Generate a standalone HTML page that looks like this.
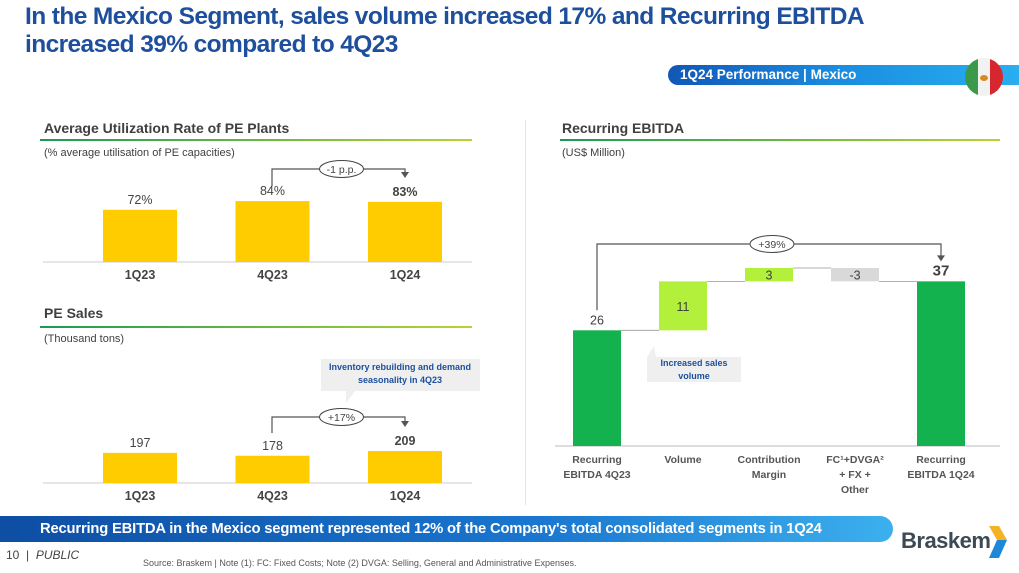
<!DOCTYPE html>
<html><head><meta charset="utf-8"><style>
*{margin:0;padding:0;box-sizing:border-box}
body{width:1019px;height:573px;background:#fff;position:relative;overflow:hidden;font-family:"Liberation Sans",sans-serif}
.abs{position:absolute}
.title{left:25px;top:3px;color:#1d4f9c;font-weight:bold;font-size:24.5px;line-height:28px;letter-spacing:-0.6px}
.pill{left:668px;top:65px;width:351px;height:20px;border-radius:10px 0 0 10px;background:linear-gradient(90deg,#1157b6,#1a8ee0 50%,#29aef0);color:#fff;font-weight:bold;font-size:13.5px;line-height:20px;padding-left:12px}
.hdr{font-weight:bold;font-size:14px;color:#404040}
.sub{font-size:11px;color:#404040}
.uline{height:2px;background:linear-gradient(90deg,#1a9a55,#b8d432)}
.banner{left:0;top:516px;width:893px;height:26px;border-radius:0 13px 13px 0;background:linear-gradient(90deg,#0e4ea3,#1a76cf 60%,#3cb0ee);color:#fff;font-weight:bold;font-size:14.8px;line-height:26px;padding-left:40px;letter-spacing:-0.2px}
</style></head><body>
<div class="abs title">In the Mexico Segment, sales volume increased 17% and Recurring EBITDA<br>increased 39% compared to 4Q23</div>
<div class="abs pill">1Q24 Performance | Mexico</div>
<svg class="abs" style="left:963px;top:56px" width="42" height="42">
<defs><clipPath id="c"><circle cx="21" cy="21" r="19"/></clipPath></defs>
<g clip-path="url(#c)"><rect x="0" y="0" width="15" height="42" fill="#3a9a4a"/><rect x="15" y="0" width="12" height="42" fill="#f2f2f2"/><rect x="27" y="0" width="15" height="42" fill="#d6272e"/></g>
<ellipse cx="21" cy="22" rx="4" ry="3" fill="#d98a1c"/></svg>

<div class="abs hdr" style="left:44px;top:120px">Average Utilization Rate of PE Plants</div>
<div class="abs uline" style="left:40px;top:139px;width:432px"></div>
<div class="abs sub" style="left:44px;top:147px">(% average utilisation of PE capacities)</div>
<div class="abs hdr" style="left:44px;top:305px">PE Sales</div>
<div class="abs uline" style="left:40px;top:326px;width:432px"></div>
<div class="abs sub" style="left:44px;top:333px">(Thousand tons)</div>
<div class="abs hdr" style="left:562px;top:120px">Recurring EBITDA</div>
<div class="abs uline" style="left:560px;top:139px;width:440px"></div>
<div class="abs sub" style="left:562px;top:147px">(US$ Million)</div>
<div class="abs" style="left:525px;top:120px;width:1px;height:385px;background:#e4e4e4"></div>

<svg id="ch" class="abs" style="left:0;top:0" width="1019" height="573" font-family="Liberation Sans, sans-serif"></svg>

<div class="abs banner">Recurring EBITDA in the Mexico segment represented 12% of the Company's total consolidated segments in 1Q24</div>
<div class="abs" style="left:6px;top:548px;font-size:12px;color:#444">10 &nbsp;| &nbsp;<i>PUBLIC</i></div>
<div class="abs" style="left:143px;top:558px;font-size:9px;color:#555">Source: Braskem | Note (1): FC: Fixed Costs; Note (2) DVGA: Selling, General and Administrative Expenses.</div>
<div class="abs" style="left:901px;top:528px;font-size:22px;font-weight:bold;color:#3d4a55;letter-spacing:-0.5px">Braskem</div>
<svg class="abs" style="left:987px;top:524px" width="22" height="36"><path d="M2 2 L12 2 L20 16 L10 16 Z" fill="#f5b323"/><path d="M10 16 L20 16 L12 34 L2 34 Z" fill="#1e88d8"/></svg>

<script>
const qCats=["1Q23","4Q23","1Q24"];
const utilVals=[72,84,83];
const utilLabels=["72%","84%","83%"];
const salesVals=[197,178,209];
const salesLabels=["197","178","209"];
const wfCats=[["Recurring","EBITDA 4Q23"],["Volume"],["Contribution","Margin"],["FC¹+DVGA²","+ FX +","Other"],["Recurring","EBITDA 1Q24"]];
const wfVals=[26,11,3,-3,37];
const wfTypes=["total","delta","delta","delta","total"];
const wfLabels=["26","11","3","-3","37"];

const svg=document.getElementById('ch');
const NS="http://www.w3.org/2000/svg";
function mk(t,a,txt){const e=document.createElementNS(NS,t);for(const k in a)e.setAttribute(k,a[k]);if(txt!==undefined)e.textContent=txt;svg.appendChild(e);return e;}

const xq=i=>103+i*132.5;const bw=74;
function barChart(vals,labels,base,scale,prefix,boldLast){
  const y=v=>base-v*scale;
  let ln=mk('line',{x1:43,x2:472,y1:base,y2:base,stroke:'#ccc','stroke-width':1});
  
  vals.forEach((v,i)=>{
    const r=mk('rect',{x:xq(i),y:y(v),width:bw,height:base-y(v),fill:'#ffcc00'});
    
    
    const t=mk('text',{x:xq(i)+bw/2,y:y(v)-6,'text-anchor':'middle','font-size':12.5,fill:'#444','font-weight':(boldLast&&i==2)?'bold':'normal'},labels[i]);
    
    
    const c=mk('text',{x:xq(i)+bw/2,y:base+17,'text-anchor':'middle','font-size':12.5,'font-weight':'bold',fill:'#444'},qCats[i]);
    
    
  });
  return y;
}
function bracket(x1,x2,ytop,yStart,yEnd,label,prefix){
  const p=mk('path',{d:`M${x1},${yStart} V${ytop} H${x2} V${yEnd-5}`,fill:'none',stroke:'#555','stroke-width':1.2});
  
  const a=mk('path',{d:`M${x2-4},${yEnd-6} L${x2+4},${yEnd-6} L${x2},${yEnd} Z`,fill:'#555'});
  
  const mx=(x1+x2)/2+3;
  const e=mk('ellipse',{cx:mx,cy:ytop,rx:22,ry:8.5,fill:'#fff',stroke:'#444','stroke-width':1});
  
  const t=mk('text',{x:mx,y:ytop+4,'text-anchor':'middle','font-size':10.5,fill:'#444'},label);
  
}
const yU=barChart(utilVals,utilLabels,262,0.725,'utilization',true);
bracket(272,405,169,186,178,'-1 p.p.','utilization');
const yS=barChart(salesVals,salesLabels,483,0.153,'sales',true);
const cb=mk('path',{d:'M321,359 H480 V391 H355 L346,403 L346,391 H321 Z',fill:'#efefef'});

[["Inventory rebuilding and demand",370],["seasonality in 4Q23",383]].forEach(([s,yy])=>{
  const t=mk('text',{x:400,y:yy,'text-anchor':'middle','font-size':9,'font-weight':'bold',fill:'#1d4f9c'},s);
  
});
bracket(272,405,417,433,427,'+17%','sales');

const wbase=446, wsc=4.45, wx=i=>573+i*86, ww=48;
const wy=v=>wbase-v*wsc;
let bl=mk('line',{x1:555,x2:1000,y1:wbase,y2:wbase,stroke:'#bbb','stroke-width':1});

let run=0;const tops=[];
wfVals.forEach((v,i)=>{
  let y0,y1,fill;
  if(wfTypes[i]=='total'){run=v;y0=wy(v);y1=wbase;fill='#14b24f';}
  else{const a=run,b=run+v;run=b;y0=wy(Math.max(a,b));y1=wy(Math.min(a,b));fill=v>=0?'#b3f03c':'#d9d9d9';}
  tops.push(wy(run));
  const r=mk('rect',{x:wx(i),y:y0,width:ww,height:y1-y0,fill:fill});
  
  
  let ly=wfTypes[i]=='total'?y0-6:(y0+y1)/2+5;
  const big=i==wfVals.length-1;
  const t=mk('text',{x:wx(i)+ww/2,y:ly,'text-anchor':'middle','font-size':big?15:12.5,'font-weight':big?'bold':'normal',fill:'#404040'},wfLabels[i]);
  
  
  wfCats[i].forEach((s,k)=>{
    const c=mk('text',{x:wx(i)+ww/2,y:wbase+17+k*15,'text-anchor':'middle','font-size':10.5,'font-weight':'bold',fill:'#555'},s);
    
    
  });
});
for(let i=0;i<wfVals.length-1;i++){
  const c=mk('line',{x1:wx(i)+ww,x2:wx(i+1),y1:tops[i],y2:tops[i],stroke:'#999','stroke-width':0.8});
  
  
}
bracket(597,941,244,wy(wfVals[0])-20,wy(wfVals[4])-20,'+39%','ebitda');
const cb2=mk('path',{d:'M647,357 L654,346 L656,357 H741 V382 H647 Z',fill:'#efefef'});

[["Increased sales",366],["volume",379]].forEach(([s,yy])=>{
  const t=mk('text',{x:694,y:yy,'text-anchor':'middle','font-size':9,'font-weight':'bold',fill:'#1d4f9c'},s);
  
});
</script>
</body></html>
